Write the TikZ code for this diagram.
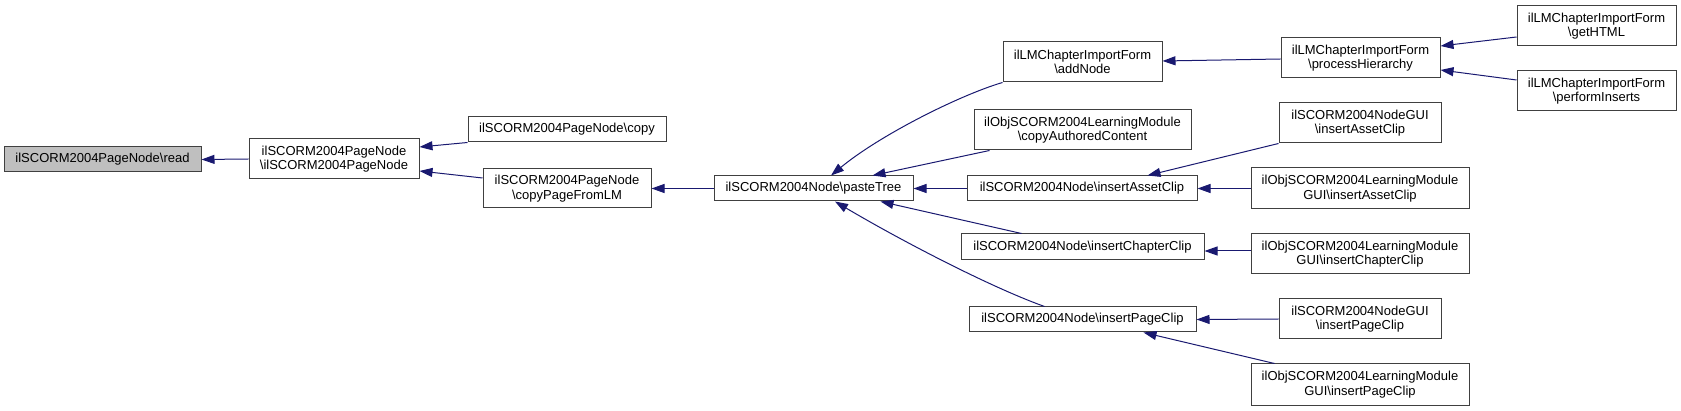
\documentclass[tikz,border=0pt]{standalone}
\usepackage{fontspec}
\setmainfont{Liberation Sans}
\usetikzlibrary{arrows.meta}
\definecolor{edgeblue}{HTML}{191970}
\definecolor{nodeborder}{HTML}{404040}
\definecolor{readfill}{HTML}{BFBFBF}
\tikzset{
  box/.style={draw=nodeborder, line width=1pt, fill=white, inner sep=0pt, align=center,
    font=\fontsize{13}{14.5}\selectfont},
  edge/.style={draw=edgeblue, line width=1pt, -{Triangle[length=13pt,width=9pt]}, fill=none},
}
\newcommand\dnode[7][]{%
  \node[box,#1,minimum width={(#5-#3)*1pt},minimum height={(#6-#4)*1pt}]
    (#2) at ({(#3+#5)/2},{(#4+#6)/2}) {#7};}
\begin{document}
\begin{tikzpicture}[x=1pt,y=-1pt]
\useasboundingbox (0,0) rectangle (1681,411);
% nodes
\dnode[fill=readfill]{read}{4}{147}{201}{172}{ilSCORM2004PageNode\textbackslash read}
\dnode{pn}{249}{139}{419}{179}{ilSCORM2004PageNode\\\textbackslash ilSCORM2004PageNode}
\dnode{copy}{468}{117}{666}{142}{ilSCORM2004PageNode\textbackslash copy}
\dnode{cplm}{483}{169}{651}{208}{ilSCORM2004PageNode\\\textbackslash copyPageFromLM}
\dnode{paste}{714}{176}{913}{201}{ilSCORM2004Node\textbackslash pasteTree}
\dnode{addnode}{1003}{42}{1162}{82}{ilLMChapterImportForm\\\textbackslash addNode}
\dnode{cpauth}{974}{110}{1191}{150}{ilObjSCORM2004LearningModule\\\textbackslash copyAuthoredContent}
\dnode{insasset}{967}{176}{1197}{201}{ilSCORM2004Node\textbackslash insertAssetClip}
\dnode{inschap}{961}{234}{1204}{260}{ilSCORM2004Node\textbackslash insertChapterClip}
\dnode{inspage}{969}{307}{1196}{332}{ilSCORM2004Node\textbackslash insertPageClip}
\dnode{proch}{1281}{38}{1440}{78}{ilLMChapterImportForm\\\textbackslash processHierarchy}
\dnode{guiasset}{1279}{103}{1441}{143}{ilSCORM2004NodeGUI\\\textbackslash insertAssetClip}
\dnode{lmasset}{1251}{168}{1469}{209}{ilObjSCORM2004LearningModule\\GUI\textbackslash insertAssetClip}
\dnode{lmchap}{1251}{234}{1469}{274}{ilObjSCORM2004LearningModule\\GUI\textbackslash insertChapterClip}
\dnode{guipage}{1279}{299}{1441}{339}{ilSCORM2004NodeGUI\\\textbackslash insertPageClip}
\dnode{lmpage}{1251}{364}{1469}{405}{ilObjSCORM2004LearningModule\\GUI\textbackslash insertPageClip}
\dnode{gethtml}{1517}{6}{1676}{46}{ilLMChapterImportForm\\\textbackslash getHTML}
\dnode{perfins}{1517}{71}{1676}{111}{ilLMChapterImportForm\\\textbackslash performInserts}
% edges
\draw[edge] (pn.west) -- (read.east);
\draw[edge] (copy.south west) -- ([yshift=12pt]pn.east);
\draw[edge] ([yshift=10.5pt]cplm.west) -- ([yshift=-12pt]pn.east);
\draw[edge] (paste.west) -- (cplm.east);
\draw[edge] (addnode.south west) .. controls (960,95) and (880,135) .. ([xshift=17.5pt]paste.north);
\draw[edge] ([xshift=16pt]cpauth.south west) -- ([xshift=-41pt]paste.north east);
\draw[edge] (insasset.west) -- (paste.east);
\draw[edge] ([xshift=61pt]inschap.north west) -- ([xshift=-33pt]paste.south east);
\draw[edge] ([xshift=76pt]inspage.north west) .. controls (990,287) and (900,240) .. ([xshift=21.5pt]paste.south);
\draw[edge] ([yshift=-1pt]proch.west) -- ([yshift=1pt]addnode.east);
\draw[edge] (guiasset.south west) -- ([xshift=-50pt]insasset.north east);
\draw[edge] (lmasset.west) -- (insasset.east);
\draw[edge] ([yshift=3pt]lmchap.west) -- ([yshift=-4pt]inschap.east);
\draw[edge] (guipage.west) -- (inspage.east);
\draw[edge] ([xshift=24pt]lmpage.north west) -- ([xshift=-53pt]inspage.south east);
\draw[edge] ([yshift=-11pt]gethtml.west) -- ([yshift=12pt]proch.east);
\draw[edge] ([yshift=11pt]perfins.west) -- ([yshift=-12pt]proch.east);
\end{tikzpicture}
\end{document}
